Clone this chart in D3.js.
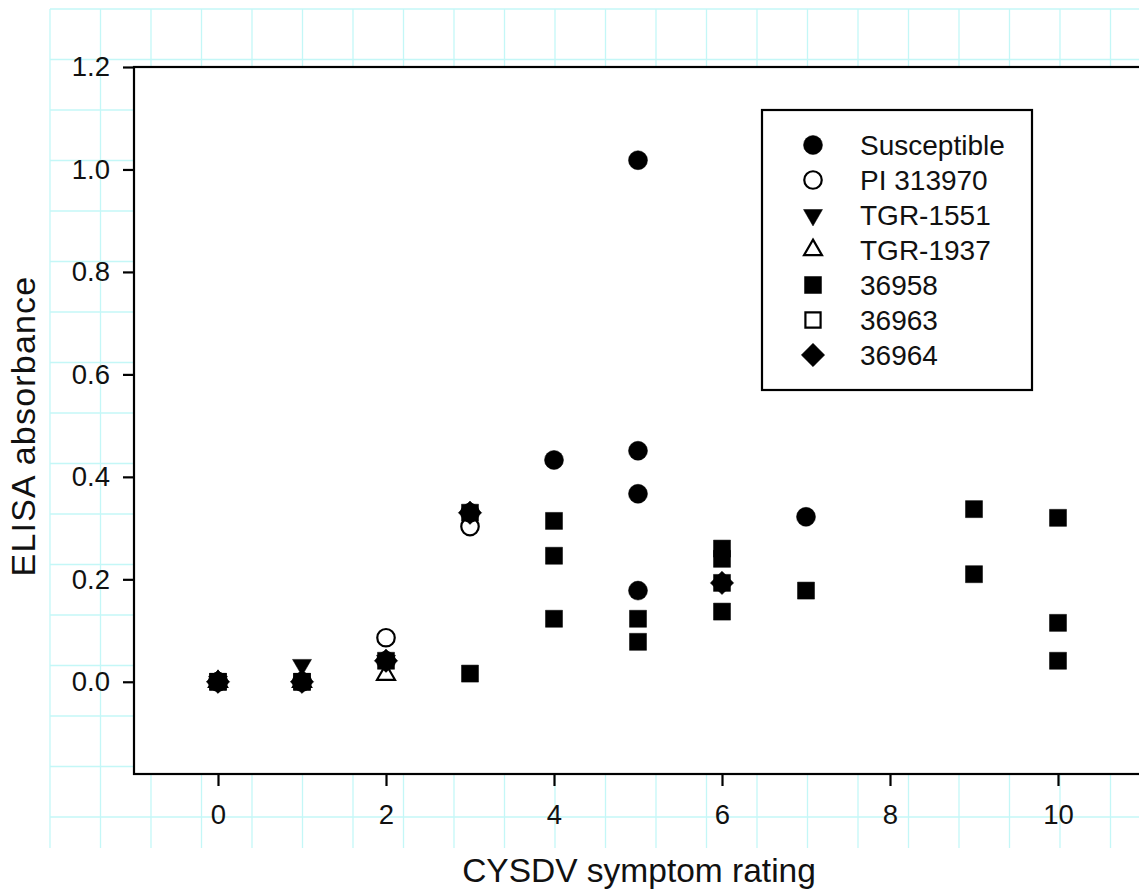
<!DOCTYPE html>
<html>
<head>
<meta charset="utf-8">
<script src="https://cdn.jsdelivr.net/npm/d3@7"></script>
<style>
  body { margin: 0; background: #fff; }
  svg { display: block; font-family: "Liberation Sans", Arial, sans-serif; }
</style>
</head>
<body>
<svg id="chart"></svg>
<script>
// series names, in legend order
const seriesNames = ["Susceptible", "PI 313970", "TGR-1551", "TGR-1937", "36958", "36963", "36964"];

// [symptom rating, ELISA absorbance]
const susceptible = [[0, 0], [1, 0], [2, 0.041], [3, 0.33], [4, 0.433], [5, 1.018], [5, 0.451], [5, 0.367], [5, 0.178], [7, 0.322]];
const pi313970 = [[0, 0], [1, 0], [2, 0.086], [3, 0.303]];
const tgr1551 = [[0, 0], [1, 0.033], [2, 0.041]];
const tgr1937 = [[0, 0], [1, 0], [2, 0.014]];
const l36958 = [[0, 0], [1, 0], [2, 0.041], [3, 0.016], [3, 0.33], [4, 0.314], [4, 0.246], [4, 0.123],
  [5, 0.123], [5, 0.078], [6, 0.26], [6, 0.24], [6, 0.193], [6, 0.137], [7, 0.178],
  [9, 0.337], [9, 0.21], [10, 0.32], [10, 0.115], [10, 0.041]];
const l36963 = [[0, 0], [1, 0]];
const l36964 = [[0, 0], [1, 0], [2, 0.041], [3, 0.33], [6, 0.193]];

const xTicks = [0, 2, 4, 6, 8, 10];
const yTicks = [0, 0.2, 0.4, 0.6, 0.8, 1.0, 1.2];

const seriesData = [susceptible, pi313970, tgr1551, tgr1937, l36958, l36963, l36964];

// marker look per series
const markers = [
  { type: d3.symbolCircle, size: 283, open: false, rot: 0 },
  { type: d3.symbolCircle, size: 240, open: true, rot: 0 },
  { type: d3.symbolTriangle, size: 156, open: false, rot: 180 },
  { type: d3.symbolTriangle, size: 140, open: true, rot: 0 },
  { type: d3.symbolSquare, size: 289, open: false, rot: 0 },
  { type: d3.symbolSquare, size: 230, open: true, rot: 0 },
  { type: d3.symbolSquare, size: 272, open: false, rot: 45 }
];

const W = 1139, H = 891;
const svg = d3.select("#chart").attr("width", W).attr("height", H);

// background drawing-paper grid
const gridStep = 50.5;
const grid = svg.append("g").attr("stroke", "#c4f7f7").attr("stroke-width", 1.3);
d3.range(50, W + 1, gridStep).forEach(gx => {
  grid.append("line").attr("x1", gx).attr("x2", gx).attr("y1", 9).attr("y2", 848);
});
d3.range(9, 848, gridStep).forEach(gy => {
  grid.append("line").attr("x1", 50).attr("x2", W).attr("y1", gy).attr("y2", gy);
});

const x = d3.scaleLinear().domain([-1, 11]).range([134, 1142]);
const y = d3.scaleLinear().domain([-0.18, 1.2]).range([774, 67]);

// plot area
svg.append("rect")
  .attr("x", x(-1)).attr("y", y(1.2))
  .attr("width", x(11) - x(-1)).attr("height", y(-0.18) - y(1.2))
  .attr("fill", "#fff").attr("stroke", "#000").attr("stroke-width", 2.2);

const xAxis = svg.append("g")
  .attr("transform", `translate(0,${y(-0.18)})`)
  .call(d3.axisBottom(x).tickValues(xTicks).tickFormat(d3.format("d")).tickSize(12).tickPadding(18));
const yAxis = svg.append("g")
  .attr("transform", `translate(${x(-1)},0)`)
  .call(d3.axisLeft(y).tickValues(yTicks).tickFormat(d3.format(".1f")).tickSize(11).tickPadding(13));

[xAxis, yAxis].forEach(a => {
  a.attr("font-size", null).attr("font-family", null);
  a.select(".domain").remove();
  a.selectAll("line").attr("stroke", "#000").attr("stroke-width", 2.2);
  a.selectAll("text").attr("fill", "#111").style("font-size", "27.5px");
});

// axis titles
svg.append("text")
  .attr("x", 639).attr("y", 882)
  .attr("text-anchor", "middle")
  .style("font-size", "33.5px").attr("fill", "#111")
  .text("CYSDV symptom rating");

svg.append("text")
  .attr("transform", "translate(35,426) rotate(-90)")
  .attr("text-anchor", "middle")
  .style("font-size", "34px").style("letter-spacing", "1.2px").attr("fill", "#111")
  .text("ELISA absorbance");

function symPath(m) {
  return d3.symbol().type(m.type).size(m.size)();
}

// points
seriesData.forEach((pts, i) => {
  const m = markers[i];
  svg.append("g").selectAll("path")
    .data(pts)
    .join("path")
    .attr("d", symPath(m))
    .attr("transform", d => `translate(${x(d[0])},${y(d[1])}) rotate(${m.rot})`)
    .attr("fill", m.open ? "none" : "#000")
    .attr("stroke", "#000")
    .attr("stroke-width", m.open ? 2.2 : 0.5);
});

// legend
const legend = svg.append("g");
legend.append("rect")
  .attr("x", 762).attr("y", 110).attr("width", 270).attr("height", 280)
  .attr("fill", "#fff").attr("stroke", "#000").attr("stroke-width", 2.2);

seriesNames.forEach((name, i) => {
  const m = markers[i];
  const ly = 145 + i * 35;
  legend.append("path")
    .attr("d", symPath(m))
    .attr("transform", `translate(813,${ly}) rotate(${m.rot})`)
    .attr("fill", m.open ? "#fff" : "#000")
    .attr("stroke", "#000")
    .attr("stroke-width", m.open ? 2.2 : 0.5);
  legend.append("text")
    .attr("x", 860).attr("y", ly).attr("dy", "0.36em")
    .style("font-size", "28px").attr("fill", "#111")
    .text(name);
});
</script>
</body>
</html>
